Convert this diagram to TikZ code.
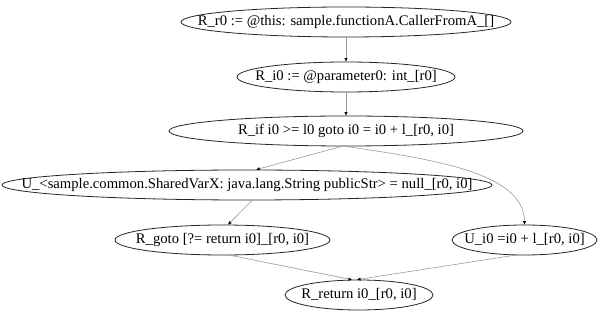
\documentclass[tikz,border=0pt]{standalone}
\usepackage{fontspec}
\setmainfont{Liberation Serif}
\usetikzlibrary{arrows.meta,shapes.geometric}
\newcommand{\stmtlbl}[1]{\makebox[0pt]{#1}}

\begin{document}
\begin{tikzpicture}[x=0.75pt,y=0.75pt,
  stmt/.style={draw=black!85,line width=0.6pt,ellipse,inner sep=0pt,minimum width=#1,minimum height=22.5pt,font=\fontsize{11}{13}\selectfont},
  flow/.style={draw=black!40,line width=0.45pt,-{Triangle[length=2.6pt,width=2.2pt,color=black]}}]
\useasboundingbox (0,0) rectangle (602,317);
\node[stmt=247.5pt] (st_r0) at (346,295) {\stmtlbl{R\_r0 := @this: sample.functionA.CallerFromA\_[]}};
\node[stmt=163.5pt] (st_i0) at (346,240) {\stmtlbl{R\_i0 := @parameter0: int\_[r0]}};
\node[stmt=265.5pt] (st_if) at (346,186) {\stmtlbl{R\_if i0 >= l0 goto i0 = i0 + l\_[r0, i0]}};
\node[stmt=367.5pt] (st_pub) at (247,132) {\stmtlbl{U\_<sample.common.SharedVarX: java.lang.String publicStr> = null\_[r0, i0]}};
\node[stmt=161.25pt] (st_goto) at (222.5,77) {\stmtlbl{R\_goto [?= return i0]\_[r0, i0]}};
\node[stmt=108.75pt] (st_inc) at (524.5,77) {\stmtlbl{U\_i0 =i0 + l\_[r0, i0]}};
\node[stmt=111pt] (st_ret) at (359,22) {\stmtlbl{R\_return i0\_[r0, i0]}};
\draw[flow] (st_r0.south) -- (st_i0.north);
\draw[flow] (st_i0.south) -- (st_if.north);
\draw[flow] (st_if.-105) -- (st_pub.59);
\draw[flow] (st_if.south) .. controls (430,158) and (524,145) .. (st_inc.north);
\draw[flow] (st_pub.-72) -- (st_goto.70);
\draw[flow] (st_goto.-63) -- (st_ret.115);
\draw[flow] (st_inc.-123) -- (st_ret.97);
\end{tikzpicture}
\end{document}
